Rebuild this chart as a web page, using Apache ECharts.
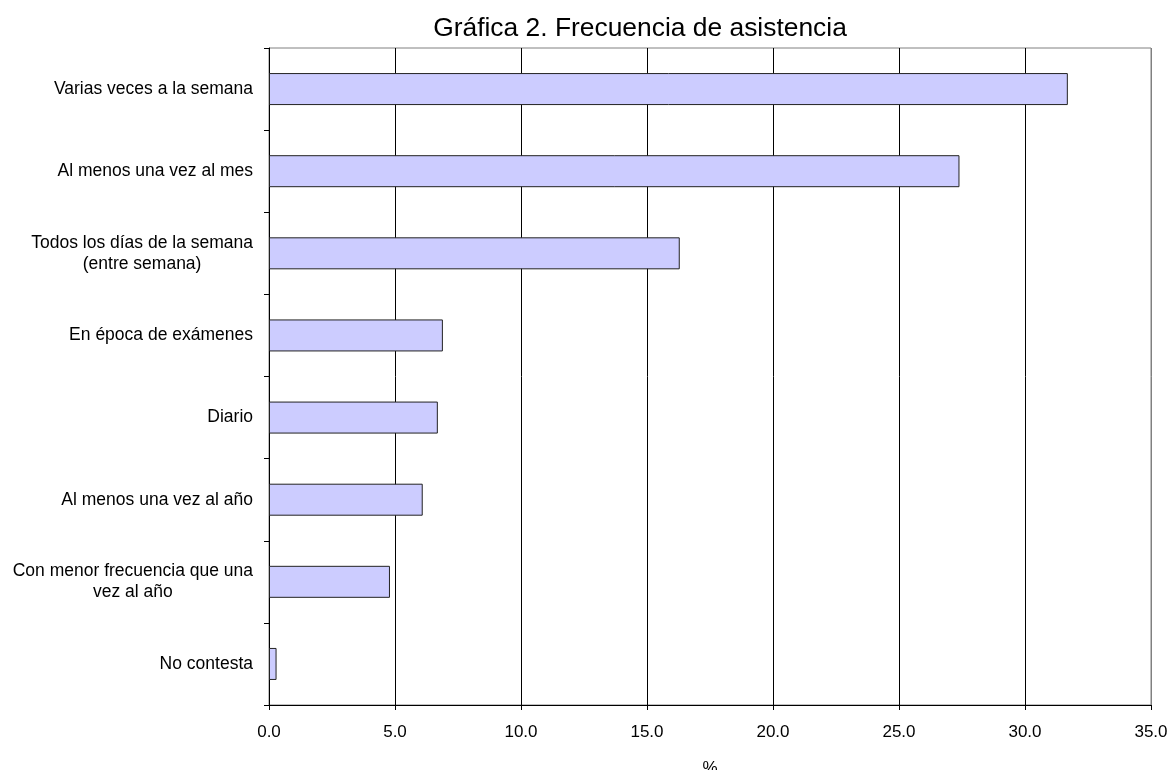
<!DOCTYPE html>
<html>
<head>
<meta charset="utf-8">
<script src="https://cdn.jsdelivr.net/npm/echarts@6/dist/echarts.min.js"></script>
<style>html,body{margin:0;padding:0;background:#fff}#c{width:1170px;height:770px}</style>
</head>
<body>
<div id="c"></div>
<script>
const categories = [
  "Varias veces a la semana",
  "Al menos una vez al mes",
  "Todos los días de la semana\n(entre semana)",
  "En época de exámenes",
  "Diario",
  "Al menos una vez al año",
  "Con menor frecuencia que una\nvez al año",
  "No contesta"
];
const values = [31.7, 27.4, 16.3, 6.9, 6.7, 6.1, 4.8, 0.3];
const title = "Gráfica 2. Frecuencia de asistencia";
const xAxisName = "%";

const chart = echarts.init(document.getElementById('c'));
const font = "'Liberation Sans', Arial, sans-serif";
chart.setOption({
  animation: false,
  backgroundColor: '#fff',
  title: {
    text: title, left: 635, top: 11, textAlign: 'center',
    textStyle: { fontFamily: font, fontSize: 26.4, fontWeight: 'normal', color: '#000' }
  },
  grid: { left: 269, right: 19, top: 48, bottom: 65, show: true, borderColor: '#808080', borderWidth: 1,
          containLabel: false, outerBoundsMode: 'none' },
  xAxis: {
    type: 'value', min: 0, max: 35, interval: 5,
    name: xAxisName, nameLocation: 'middle', nameGap: 55,
    nameTextStyle: { fontFamily: font, fontSize: 17, color: '#000' },
    axisLine: { show: true, lineStyle: { color: '#000', width: 1 } },
    axisTick: { show: true, length: 5, lineStyle: { color: '#000' } },
    axisLabel: { fontFamily: font, fontSize: 17, color: '#000', margin: 19, formatter: v => v.toFixed(1) },
    splitLine: { show: true, lineStyle: { color: ['#000','#000','#000','#000','#000','#000','#000','#808080'], width: 1 } }
  },
  yAxis: {
    type: 'category', data: categories, inverse: true,
    axisLine: { show: true, lineStyle: { color: '#000', width: 1 } },
    axisTick: { show: true, length: 5, lineStyle: { color: '#000' } },
    axisLabel: {
      fontFamily: font, fontSize: 17.5, color: '#000', margin: 16, lineHeight: 21,
      formatter: v => v.split('\n').map(s => '{c|' + s + '}').join('\n'),
      rich: { c: { align: 'center', fontFamily: font, fontSize: 17.5, color: '#000', lineHeight: 21 } }
    },
    splitLine: { show: false }
  },
  series: [{
    type: 'bar', data: values, barWidth: 32,
    itemStyle: { color: '#ccccff', borderColor: '#222', borderWidth: 1 }
  }]
});
</script>
</body>
</html>
